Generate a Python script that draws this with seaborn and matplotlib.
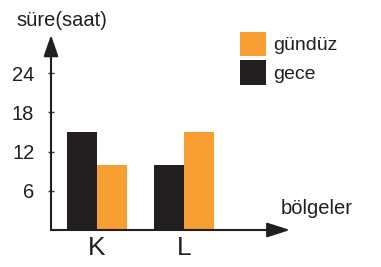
import matplotlib
matplotlib.use("Agg")
import matplotlib.pyplot as plt
import seaborn as sns
import pandas as pd
from matplotlib.patches import Patch

regions = ["K", "L"]
night = [15, 10]   # gece
day = [10, 15]     # gündüz
yticks = [6, 12, 18, 24]
series_names = ["gece", "gündüz"]
colors = {"gece": "#231f20", "gündüz": "#f79f32"}

df = pd.DataFrame({
    "bölge": regions * 2,
    "süre": night + day,
    "tür": [series_names[0]] * len(regions) + [series_names[1]] * len(regions),
})

sns.set_style("white")
plt.rcParams["font.family"] = ["Liberation Sans", "DejaVu Sans"]

W, H = 381, 267
fig = plt.figure(figsize=(W / 100, H / 100), dpi=100)
x0, x1 = 51, 290
y_base, y_top = 230, 35
ax = fig.add_axes([x0 / W, (H - y_base) / H, (x1 - x0) / W, (y_base - y_top) / H])

sns.barplot(data=df, x="bölge", y="süre", hue="tür", hue_order=series_names,
            palette=colors, width=0.68, saturation=1, ax=ax, legend=False,
            edgecolor="none", linewidth=0)

px_per_h = (230 - 132) / 15.0
ax.set_ylim(0, (y_base - y_top) / px_per_h)
ax.set_xlim(-0.529, 2.218)

for s in ax.spines.values():
    s.set_visible(False)

ax.set_yticks(yticks)
ax.set_yticklabels([str(t) for t in yticks], fontsize=14.5, color="#231f20")
ax.tick_params(axis="y", direction="inout", length=4, width=1, color="#333333", pad=10, left=True)
ax.tick_params(axis="x", length=0, pad=4, labelsize=19, labelcolor="#231f20")
ax.set_xlabel("")
ax.set_ylabel("")

# axes with arrowheads
ax.annotate("", xy=(0, 1.0), xytext=(0, 0), xycoords="axes fraction",
            arrowprops=dict(arrowstyle="-|>,head_length=1.3,head_width=0.45",
                            color="#231f20", lw=1.5, shrinkA=0, shrinkB=0))
ax.annotate("", xy=(1.0, 0), xytext=(0, 0), xycoords="axes fraction",
            arrowprops=dict(arrowstyle="-|>,head_length=1.4,head_width=0.45",
                            color="#231f20", lw=1.5, shrinkA=0, shrinkB=0))

fig.text(16 / W, 1 - 20 / H, "süre(saat)", fontsize=14.5, color="#231f20", va="center", ha="left")
fig.text(281 / W, 1 - 208 / H, "bölgeler", fontsize=14.5, color="#231f20", va="center", ha="left")

handles = [Patch(facecolor=colors["gündüz"], edgecolor="none"),
           Patch(facecolor=colors["gece"], edgecolor="none")]
fig.legend(handles, ["gündüz", "gece"], loc="upper left",
           bbox_to_anchor=(222 / W, 1 - 14 / H), frameon=False, fontsize=14,
           handlelength=1.35, handleheight=1.6, handletextpad=0.4, labelspacing=0.2,
           labelcolor="#231f20")

fig.savefig("out.png", dpi=100)
